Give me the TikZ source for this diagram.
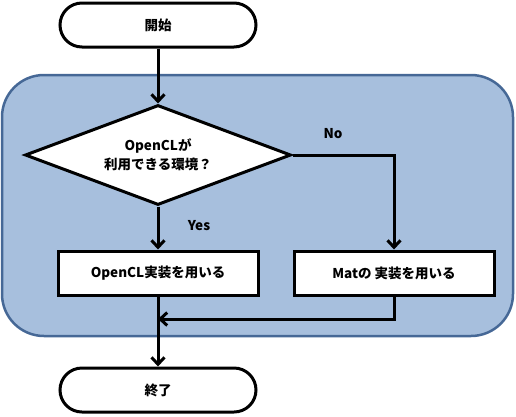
\documentclass[tikz,border=0pt]{standalone}
\usepackage{fontspec}
\setmainfont{Noto Sans CJK JP}
\usetikzlibrary{arrows.meta,shapes.geometric}
\definecolor{panelfill}{RGB}{167,191,221}
\definecolor{paneledge}{RGB}{70,104,150}
\tikzset{
  flow/.style={line width=3pt,-{Straight Barb[length=7pt,width=13pt,line width=3pt]}},
  term/.style={draw,line width=3pt,fill=white,rounded corners=22pt,minimum width=196pt,minimum height=44pt,font=\fontsize{13.5}{15}\selectfont\bfseries},
  proc/.style={draw,line width=3pt,fill=white,minimum width=200pt,minimum height=44pt,font=\fontsize{13.5}{15}\selectfont\bfseries},
  decide/.style={draw,line width=3pt,fill=white,diamond,aspect=2.6,minimum width=266pt,minimum height=100pt,inner sep=0pt,align=center,font=\fontsize{13.5}{19}\selectfont\bfseries},
  lbl/.style={font=\fontsize{13.5}{15}\selectfont\bfseries}
}
\begin{document}
\begin{tikzpicture}[x=1pt,y=-1pt]
\useasboundingbox (0,0) rectangle (516,416);
\path[fill=panelfill,draw=paneledge,line width=2.5pt,rounded corners=42pt] (2,75) rectangle (513,336);
\node[term] (start) at (158,25) {開始};
\node[decide] (dia) at (158,155) {OpenCLが\\利用できる環境？};
\node[proc] (box1) at (158,273) {OpenCL実装を用いる};
\node[proc] (box2) at (394,273) {Matの 実装を用いる};
\node[term] (stop) at (158,390) {終了};
\node[lbl] (no) at (333,134) {No};
\node[lbl] (yes) at (199,226) {Yes};
\coordinate (join) at (158,319);
\draw[flow] (start.south) -- (dia.north);
\draw[flow] (dia.south) -- (box1.north);
\draw[flow] (dia.east) -| (box2.north);
\draw[flow] (box2.south) |- (join);
\draw[flow] (box1.south) -- (stop.north);
\end{tikzpicture}
\end{document}
